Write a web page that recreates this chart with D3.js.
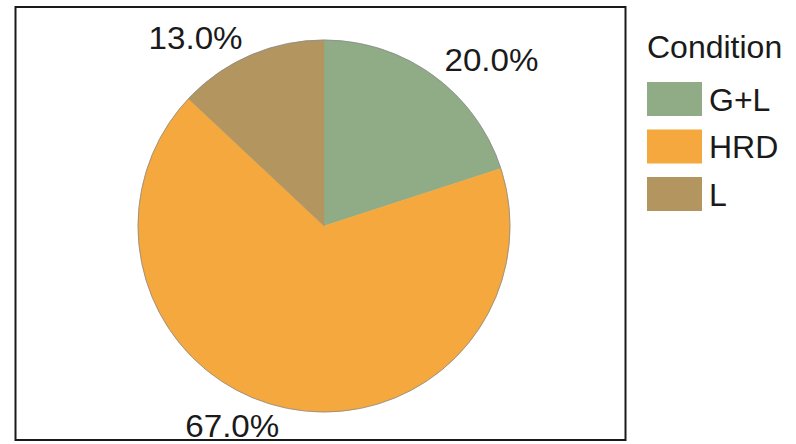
<!DOCTYPE html>
<html>
<head>
<meta charset="utf-8">
<script src="https://cdn.jsdelivr.net/npm/d3@7"></script>
<style>
  html, body { margin: 0; padding: 0; background: #fff; }
  svg { display: block; }
  text { font-family: "Liberation Sans", Arial, sans-serif; fill: #1a1a1a; }
</style>
</head>
<body>
<svg id="chart" width="796" height="444"></svg>
<script>
// Data
const categories = ["G+L", "HRD", "L"];
const values = [20.0, 67.0, 13.0];
const labels = ["20.0%", "67.0%", "13.0%"];
const colors = ["#8fac86", "#f4a83e", "#b2955f"];
const legendTitle = "Condition";

const svg = d3.select("#chart");
const W = 796, H = 444;

// Panel
const panel = { x: 15.5, y: 7, w: 610, h: 433 };
svg.append("rect")
  .attr("x", 0).attr("y", 0).attr("width", W).attr("height", H)
  .attr("fill", "#fff");
svg.append("rect")
  .attr("x", panel.x).attr("y", panel.y)
  .attr("width", panel.w).attr("height", panel.h)
  .attr("fill", "#fff")
  .attr("stroke", "#1a1a1a")
  .attr("stroke-width", 2);

const cx = 324, cy = 226, R = 186;
const color = d3.scaleOrdinal().domain(categories).range(colors);

const data = categories.map((c, i) => ({ cat: c, value: values[i], label: labels[i] }));
const pie = d3.pie().value(d => d.value).sort(null);
const arcs = pie(data);
const arc = d3.arc().innerRadius(0).outerRadius(R);

const g = svg.append("g").attr("transform", `translate(${cx},${cy})`);
g.selectAll("path.slice")
  .data(arcs)
  .enter().append("path")
  .attr("class", "slice")
  .attr("d", arc)
  .attr("fill", d => color(d.data.cat))
  .attr("stroke", d => color(d.data.cat))
  .attr("stroke-width", 0.5);
// thin outline along the circumference only
g.append("circle")
  .attr("r", R)
  .attr("fill", "none")
  .attr("stroke", "#8a8a8a")
  .attr("stroke-width", 0.8);

// Labels: at mid-angle, radius outside the pie; anchored away from the center
const labelR = 205;
g.selectAll("text.lab")
  .data(arcs)
  .enter().append("text")
  .attr("class", "lab")
  .each(function(d) {
    const a = (d.startAngle + d.endAngle) / 2;
    const x = labelR * Math.sin(a), y = -labelR * Math.cos(a);
    d3.select(this)
      .attr("x", x).attr("y", y)
      .attr("dy", "0.36em")
      .attr("text-anchor", Math.sin(a) >= 0 ? "start" : "end");
  })
  .attr("font-size", 31)
  .attr("textLength", 94)
  .attr("lengthAdjust", "spacingAndGlyphs")
  .text(d => d.data.label);

// Legend
const lg = svg.append("g");
lg.append("text")
  .attr("x", 647).attr("y", 58)
  .attr("font-size", 32)
  .text(legendTitle);

const keyY = d3.scalePoint().domain(categories).range([82, 177]);
const keyH = 34, keyW = 55;
const items = lg.selectAll("g.item").data(categories).enter().append("g").attr("class", "item");
items.append("rect")
  .attr("x", 647).attr("y", d => keyY(d))
  .attr("width", keyW).attr("height", keyH)
  .attr("fill", d => color(d));
items.append("text")
  .attr("x", 709).attr("y", d => keyY(d) + keyH / 2)
  .attr("dy", "0.36em")
  .attr("font-size", 32)
  .text(d => d);
</script>
</body>
</html>
